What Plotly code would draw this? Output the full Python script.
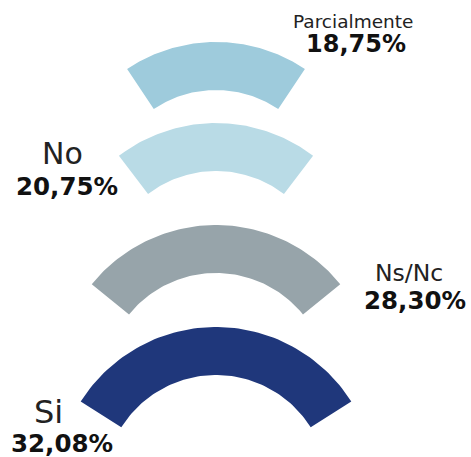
import numpy as np
import plotly.graph_objects as go

# ---- data ----
categories = ["Parcialmente", "No", "Ns/Nc", "Si"]
values = [18.75, 20.75, 28.30, 32.08]
value_labels = ["18,75%", "20,75%", "28,30%", "32,08%"]

# ---- styles / layout ----
colors = ["#9ecbdc", "#b9dbe6", "#97a4aa", "#1f377b"]
centers_x = [216, 216, 216, 216]
centers_y = [202, 283, 385, 487]
r_outer, r_inner = 160, 112
name_pos = [(353, 21), (62, 153), (409, 273), (48, 412)]
name_size = [18.5, 30, 23.5, 32]
val_pos = [(356, 44), (67, 186), (415, 300), (62, 443)]
val_size = [24, 24.5, 24.5, 24.5]

W, H = 471, 457
fig = go.Figure()

for cat, v, col, cx, cy in zip(categories, values, colors, centers_x, centers_y):
    half = v * 3.6 / 2
    th = np.radians(np.linspace(90 - half, 90 + half, 80))
    xo = cx + r_outer * np.cos(th)
    yo = cy - r_outer * np.sin(th)
    xi = cx + r_inner * np.cos(th[::-1])
    yi = cy - r_inner * np.sin(th[::-1])
    xs = np.concatenate([xo, xi, xo[:1]])
    ys = np.concatenate([yo, yi, yo[:1]])
    fig.add_trace(go.Scatter(x=xs, y=ys, fill="toself", fillcolor=col,
                             mode="lines", line=dict(width=0, color=col),
                             name=cat, hoverinfo="name", showlegend=False))

for cat, (x, y), s in zip(categories, name_pos, name_size):
    fig.add_annotation(x=x, y=y, xref="x", yref="y", text=cat, showarrow=False,
                       xanchor="center", yanchor="middle",
                       font=dict(family="DejaVu Sans", size=s, color="#222222"))
for lab, (x, y), s in zip(value_labels, val_pos, val_size):
    fig.add_annotation(x=x, y=y, xref="x", yref="y", text="<b>" + lab + "</b>",
                       showarrow=False, xanchor="center", yanchor="middle",
                       font=dict(family="DejaVu Sans", size=s, color="#111111"))

fig.update_layout(
    width=W, height=H, margin=dict(l=0, r=0, t=0, b=0),
    paper_bgcolor="white", plot_bgcolor="white",
    xaxis=dict(range=[0, W], visible=False, fixedrange=True),
    yaxis=dict(range=[H, 0], visible=False, fixedrange=True),
)
fig.write_html("out.html", config={"displayModeBar": False},
               post_script="document.body.style.margin='0px';document.body.style.overflow='hidden';")
